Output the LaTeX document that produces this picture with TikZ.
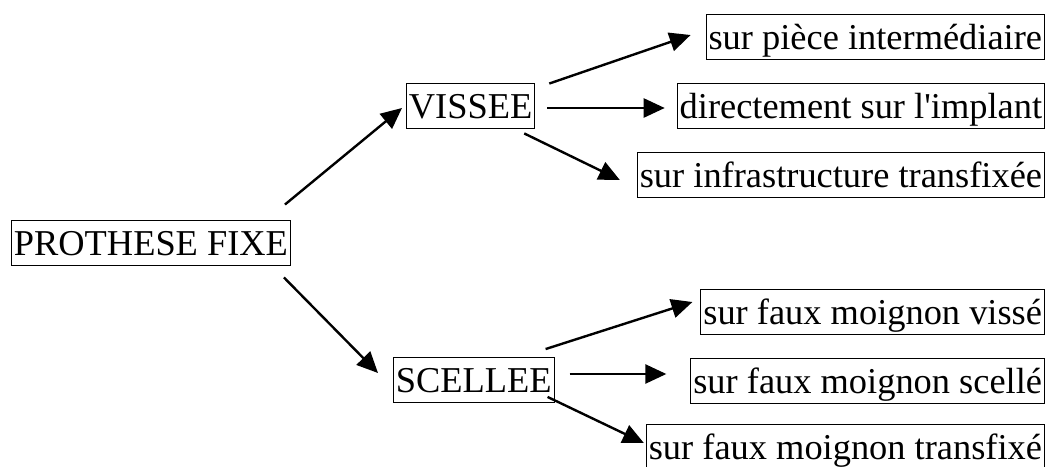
\documentclass[tikz,border=0pt]{standalone}
\usepackage{fontspec}
\setmainfont{Liberation Serif}
\usetikzlibrary{arrows.meta}
\begin{document}
\begin{tikzpicture}[x=1pt,y=-1pt,
  box/.style={draw, line width=0.9pt, inner xsep=2.5pt, inner ysep=0pt,
    text height=35pt, text depth=10pt, font=\fontsize{36.4}{40}\selectfont},
  arr/.style={line width=2.4pt, -{Triangle[length=21pt,width=19pt]}}]
\useasboundingbox (0,0) rectangle (1052,466);
\fill[white] (0,0) rectangle (1052,466);
% nodes
\node[box, anchor=west] (pf)  at (11,242.5) {PROTHESE FIXE};
\node[box, anchor=west] (vis) at (406,105.5) {VISSEE};
\node[box, anchor=west] (sce) at (393,380) {SCELLEE};
\node[box, anchor=east] (r1) at (1045,37)    {sur pièce intermédiaire};
\node[box, anchor=east] (r2) at (1045,106)   {directement sur l\textquotesingle implant};
\node[box, anchor=east] (r3) at (1045,175)   {sur infrastructure transfixée};
\node[box, anchor=east] (r4) at (1045,312)   {sur faux moignon vissé};
\node[box, anchor=east] (r5) at (1045,380.5) {sur faux moignon scellé};
\node[box, anchor=east] (r6) at (1045,446.5) {sur faux moignon transfixé};
% connectors
\draw[arr] ([xshift=-6pt,yshift=15pt]pf.north east) -- ([xshift=-4pt,yshift=-2.5pt]vis.west);
\draw[arr] ([xshift=-7pt,yshift=-12pt]pf.south east) -- ([xshift=-15pt,yshift=7pt]sce.west);
\draw[arr] ([xshift=14pt,yshift=-1pt]vis.north east) -- ([xshift=-15pt,yshift=2pt]r1.west);
\draw[arr] ([xshift=12pt,yshift=-2.5pt]vis.east) -- ([xshift=-12pt,yshift=-2pt]r2.west);
\draw[arr] ([xshift=-11pt,yshift=-5pt]vis.south east) -- ([xshift=-17pt,yshift=-5pt]r3.west);
\draw[arr] ([xshift=-9pt,yshift=8pt]sce.north east) -- ([xshift=-8pt,yshift=10pt]r4.west);
\draw[arr] ([xshift=15pt,yshift=6pt]sce.east) -- ([xshift=-24pt,yshift=6.5pt]r5.west);
\draw[arr] ([xshift=-7pt,yshift=6pt]sce.south east) -- ([xshift=-2pt,yshift=3.5pt]r6.west);
\end{tikzpicture}
\end{document}
